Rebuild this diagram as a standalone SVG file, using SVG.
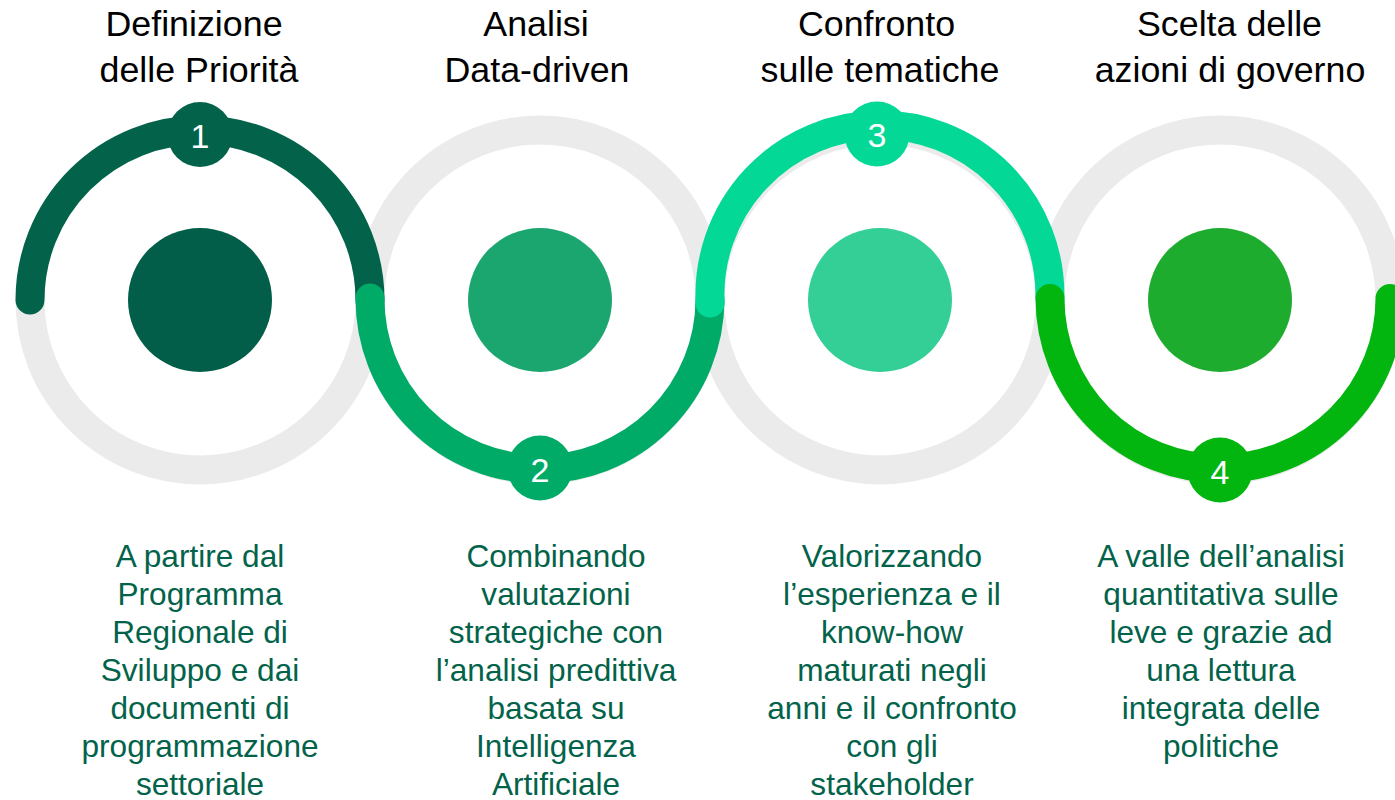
<svg xmlns="http://www.w3.org/2000/svg" width="1395" height="800" viewBox="0 0 1395 800">
<style>
.ring{fill:none;stroke:#EBEBEB;stroke-width:29}
.arc{fill:none;stroke-width:29;stroke-linecap:round}
.title{font-family:"Liberation Sans",Arial,sans-serif;font-size:35.8px;fill:#000;text-anchor:middle}
.body{font-family:"Liberation Sans",Arial,sans-serif;font-size:31.6px;fill:#03634A;text-anchor:middle}
.num{font-family:"Liberation Sans",Arial,sans-serif;font-size:34px;fill:#fff;text-anchor:middle}
</style>
<rect width="1395" height="800" fill="#fff"/>
<g id="rings">
<circle class="ring" cx="200" cy="300" r="170"/>
<circle class="ring" cx="540" cy="300" r="170"/>
<circle class="ring" cx="880" cy="300" r="170"/>
<circle class="ring" cx="1220" cy="300" r="170"/>
</g>
<g id="connectors">
<path class="arc" stroke="#02634A" d="M30,300 A170,170 0 0 1 370,300"/>
<path class="arc" stroke="#00AB68" d="M370,298 A170,170 0 0 0 710,300"/>
<path class="arc" stroke="#03D896" d="M710.1,303 A170,170 0 1 1 1049.9,297"/>
<path class="arc" stroke="#02B50F" d="M1050,298.5 A170,170 0 0 0 1390,298.5"/>
</g>
<g id="node1">
<circle cx="200" cy="300" r="72" fill="#025E48"/>
<circle cx="200" cy="134.5" r="32.5" fill="#02634A"/>
<text class="num" x="200" y="148">1</text>
<text class="title" x="200" y="36"><tspan x="194">Definizione</tspan><tspan x="199" y="82">delle Priorità</tspan></text>
<text class="body" x="200" y="567"><tspan x="200">A partire dal</tspan><tspan x="200" dy="38">Programma</tspan><tspan x="200" dy="38">Regionale di</tspan><tspan x="200" dy="38">Sviluppo e dai</tspan><tspan x="200" dy="38">documenti di</tspan><tspan x="200" dy="38">programmazione</tspan><tspan x="200" dy="38">settoriale</tspan></text>
</g>
<g id="node2">
<circle cx="540" cy="300" r="72" fill="#1BA66F"/>
<circle cx="540" cy="468" r="32.5" fill="#00AB68"/>
<text class="num" x="540" y="482">2</text>
<text class="title" x="537" y="36"><tspan x="536">Analisi</tspan><tspan x="537" y="82">Data-driven</tspan></text>
<text class="body" x="556" y="567"><tspan x="556">Combinando</tspan><tspan x="556" dy="38">valutazioni</tspan><tspan x="556" dy="38">strategiche con</tspan><tspan x="556" dy="38">l’analisi predittiva</tspan><tspan x="556" dy="38">basata su</tspan><tspan x="556" dy="38">Intelligenza</tspan><tspan x="556" dy="38">Artificiale</tspan></text>
</g>
<g id="node3">
<circle cx="880" cy="300" r="72" fill="#33CF96"/>
<circle cx="877" cy="134" r="32.5" fill="#03D896"/>
<text class="num" x="877" y="147">3</text>
<text class="title" x="878" y="36"><tspan x="876.5">Confronto</tspan><tspan x="880" y="82">sulle tematiche</tspan></text>
<text class="body" x="892" y="567"><tspan x="892">Valorizzando</tspan><tspan x="892" dy="38">l’esperienza e il</tspan><tspan x="892" dy="38">know-how</tspan><tspan x="892" dy="38">maturati negli</tspan><tspan x="892" dy="38">anni e il confronto</tspan><tspan x="892" dy="38">con gli</tspan><tspan x="892" dy="38">stakeholder</tspan></text>
</g>
<g id="node4">
<circle cx="1220" cy="300" r="72" fill="#1EAC2F"/>
<circle cx="1220" cy="470" r="32.5" fill="#02B50F"/>
<text class="num" x="1220" y="484">4</text>
<text class="title" x="1229" y="36"><tspan x="1229.5">Scelta delle</tspan><tspan x="1230" y="82">azioni di governo</tspan></text>
<text class="body" x="1221" y="567"><tspan x="1221">A valle dell’analisi</tspan><tspan x="1221" dy="38">quantitativa sulle</tspan><tspan x="1221" dy="38">leve e grazie ad</tspan><tspan x="1221" dy="38">una lettura</tspan><tspan x="1221" dy="38">integrata delle</tspan><tspan x="1221" dy="38">politiche</tspan></text>
</g>
</svg>
